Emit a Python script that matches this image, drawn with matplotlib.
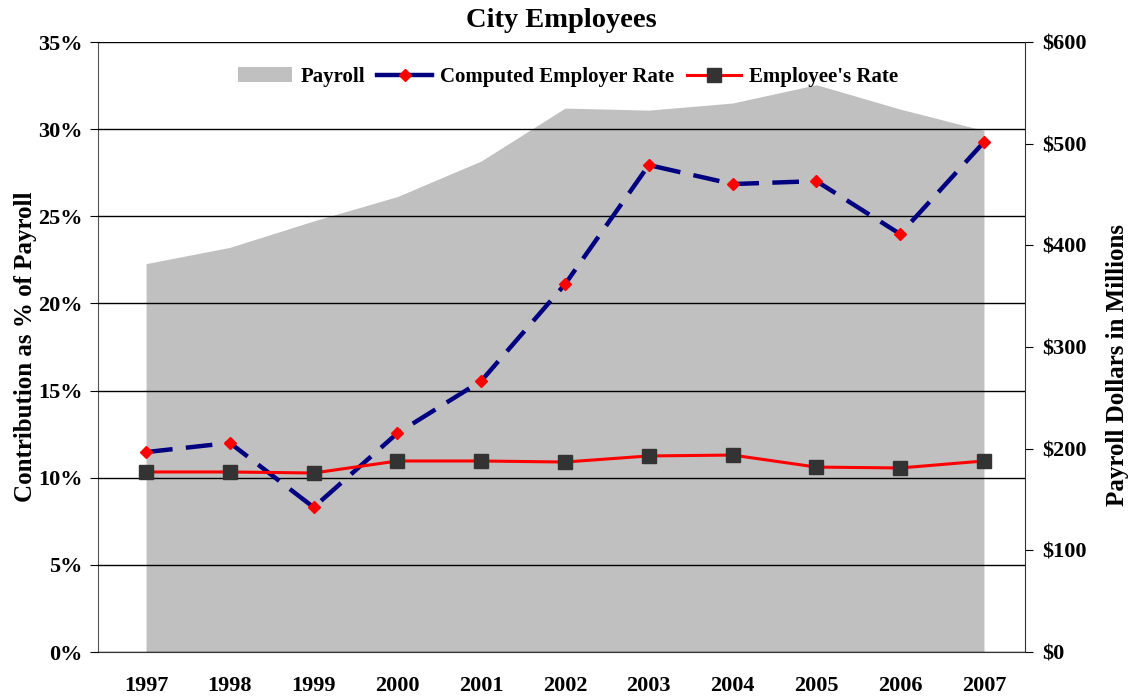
import matplotlib
matplotlib.use("Agg")
import matplotlib.pyplot as plt
from matplotlib.ticker import FuncFormatter
from matplotlib.patches import Patch
from matplotlib.lines import Line2D

years = ["1997", "1998", "1999", "2000", "2001", "2002", "2003", "2004", "2005", "2006", "2007"]
payroll = [382, 398, 424, 448, 483, 535, 533, 540, 558, 534, 513]
employer_rate = [11.47, 12.0, 8.3, 12.56, 15.55, 21.1, 27.94, 26.85, 27.02, 23.98, 29.26]
employee_rate = [10.33, 10.33, 10.27, 10.96, 10.96, 10.9, 11.25, 11.3, 10.61, 10.56, 10.96]

plt.rcParams['font.family'] = ['Liberation Serif', 'DejaVu Serif']
plt.rcParams['font.weight'] = 'bold'

fig = plt.figure(figsize=(11.31, 6.98), dpi=100)
ax = fig.add_axes([0.0867, 0.0659, 0.9063 - 0.0867, 0.9398 - 0.0659])
ax2 = ax.twinx()

x = list(range(len(years)))

# Area on secondary axis, drawn below primary
ax2.fill_between(x, payroll, 0, color='#c0c0c0', linewidth=0)
ax2.set_ylim(0, 600)
ax2.set_yticks(range(0, 601, 100))
ax2.yaxis.set_major_formatter(FuncFormatter(lambda v, p: '$0' if v == 0 else f'${int(v)}'))
ax.set_zorder(ax2.get_zorder() + 1)
ax.patch.set_visible(False)

ax.plot(x, employer_rate, color='#000080', lw=3.2, ls=(0, (6, 3)), marker='D',
        markersize=6.5, markerfacecolor='red', markeredgecolor='red', zorder=3)
ax.plot(x, employee_rate, color='red', lw=2.2, marker='s', markersize=10,
        markerfacecolor='#333333', markeredgecolor='#333333', zorder=4)

ax.set_ylim(0, 35)
ax.set_yticks(range(0, 36, 5))
ax.yaxis.set_major_formatter(FuncFormatter(lambda v, p: f'{int(v)}%'))
ax.set_xlim(-0.573, 10.49)
ax.set_xticks(x)
ax.set_xticklabels(years)
ax.grid(axis='y', color='black', lw=1.0, zorder=2)
ax.set_axisbelow(False)

for a in (ax, ax2):
    a.spines['top'].set_visible(False)
    a.tick_params(axis='both', labelsize=16)
    for lab in a.get_yticklabels() + a.get_xticklabels():
        lab.set_fontweight('bold')
ax.spines['left'].set_color('#555555')
ax.spines['bottom'].set_color('#333333')
ax2.spines['right'].set_color('#333333')
ax.spines['right'].set_visible(False)
ax2.spines['left'].set_visible(False)
ax2.spines['bottom'].set_visible(False)
ax.tick_params(axis='x', length=0, pad=17)
ax.tick_params(axis='y', length=6, direction='out', pad=5)
ax2.tick_params(axis='y', length=6, direction='out', pad=6)

ax.set_ylabel('Contribution as % of Payroll', fontsize=18, fontweight='bold', labelpad=1)
ax2.set_ylabel('Payroll Dollars in Millions', fontsize=18, fontweight='bold', labelpad=14)
ax2.yaxis.label.set_y(0.47)
fig.suptitle('City Employees', fontsize=20.5, fontweight='bold', x=0.496, y=0.988)

handles = [
    Patch(facecolor='#c0c0c0', edgecolor='none'),
    Line2D([0], [0], color='#000080', lw=3.2, marker='D', markersize=6.5,
           markerfacecolor='red', markeredgecolor='red'),
    Line2D([0], [0], color='red', lw=2.2, marker='s', markersize=10,
           markerfacecolor='#333333', markeredgecolor='#333333'),
]
leg = ax.legend(handles, ['Payroll', 'Computed Employer Rate', "Employee's Rate"],
                loc='upper center', bbox_to_anchor=(0.507, 0.99), ncol=3, frameon=False,
                prop={'size': 15, 'weight': 'bold'}, handlelength=2.6, columnspacing=0.6,
                handletextpad=0.4)

fig.savefig('out.png', dpi=100)
